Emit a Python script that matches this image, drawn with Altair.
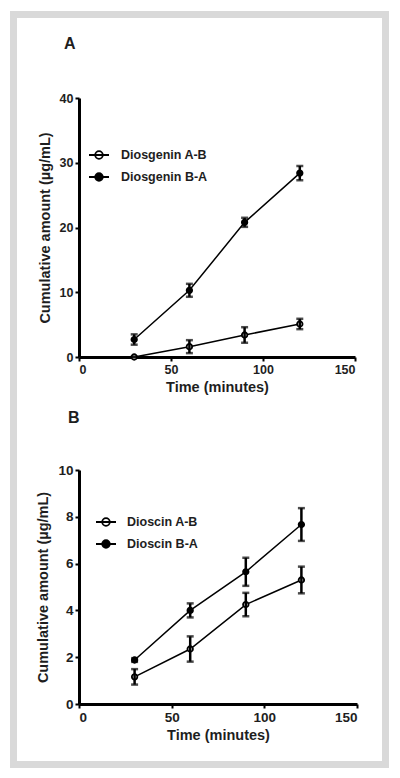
import altair as alt
import pandas as pd

time_min = [30, 60, 90, 120]
x_ticks = [0, 50, 100, 150]

# Panel A: Diosgenin
dg_names = ["Diosgenin A-B", "Diosgenin B-A"]
dg_ab = [0.0, 1.6, 3.4, 5.1]
dg_ab_err = [0.0, 1.0, 1.2, 0.8]
dg_ba = [2.7, 10.3, 20.8, 28.4]
dg_ba_err = [0.8, 1.0, 0.7, 1.1]
ya_ticks = [0, 10, 20, 30, 40]

# Panel B: Dioscin
dc_names = ["Dioscin A-B", "Dioscin B-A"]
dc_ab = [1.16, 2.35, 4.25, 5.3]
dc_ab_err = [0.33, 0.54, 0.5, 0.57]
dc_ba = [1.88, 4.0, 5.65, 7.67]
dc_ba_err = [0.08, 0.3, 0.6, 0.7]
yb_ticks = [0, 2, 4, 6, 8, 10]

FONT = "Liberation Sans"
INK = "#1e1e1e"
LEG_PATH = "M-1,0L1,0M0.38,0A0.38,0.38,0,1,1,-0.38,0A0.38,0.38,0,1,1,0.38,0"


def make_df(names, ab, ab_err, ba, ba_err):
    rows = []
    for name, vals, errs in ((names[0], ab, ab_err), (names[1], ba, ba_err)):
        for t, v, e in zip(time_min, vals, errs):
            rows.append({"time": t, "value": v, "lo": v - e, "hi": v + e, "series": name})
    return pd.DataFrame(rows)


one = pd.DataFrame({"k": [0]})


def panel(df, names, ymax, yticks, width, height, leg_x, leg_y, lab_off,
          tick_fs, letter, lx, ly, frame=False):
    xaxis = alt.Axis(values=x_ticks, title="Time (minutes)", labelFontSize=tick_fs)
    yaxis = alt.Axis(values=yticks, title="Cumulative amount (µg/mL)", labelFontSize=tick_fs)
    xs = alt.Scale(domain=[0, 150], nice=False)
    ys = alt.Scale(domain=[0, ymax], nice=False)
    x = alt.X("time:Q", scale=xs, axis=xaxis)
    base = alt.Chart(df)
    line = base.mark_line(color="black", strokeWidth=1.5).encode(
        x=x, y=alt.Y("value:Q", scale=ys, axis=yaxis), detail="series:N")
    pts = base.mark_point(shape="circle", filled=True, size=30, stroke="black",
                          strokeWidth=1.8, opacity=1).encode(
        x=x, y=alt.Y("value:Q", scale=ys, axis=yaxis),
        fill=alt.Fill("series:N", scale=alt.Scale(domain=names, range=["white", "black"]),
                      legend=alt.Legend(title=None, orient="none", legendX=leg_x, legendY=leg_y,
                                        symbolType=LEG_PATH, symbolSize=400,
                                        symbolStrokeColor="black", symbolStrokeWidth=1.8,
                                        labelFont=FONT, labelFontSize=12.5, labelFontWeight="bold",
                                        labelColor=INK, labelOffset=lab_off, rowPadding=3,
                                        padding=0)))
    rule = base.mark_rule(color="black", strokeWidth=2.5).encode(
        x=x, y=alt.Y("lo:Q", scale=ys, axis=yaxis), y2="hi:Q")
    cap_lo = base.mark_tick(orient="horizontal", color="black", size=7, thickness=2.5).encode(
        x=x, y=alt.Y("lo:Q", scale=ys, axis=yaxis))
    cap_hi = base.mark_tick(orient="horizontal", color="black", size=7, thickness=2.5).encode(
        x=x, y=alt.Y("hi:Q", scale=ys, axis=yaxis))
    lab = alt.Chart(one).mark_text(text=letter, font=FONT, fontSize=16, fontWeight="bold",
                                   color=INK, align="left", baseline="alphabetic").encode(
        x=alt.value(lx), y=alt.value(ly))
    layers = [line, pts, rule, cap_lo, cap_hi, lab]
    if frame:
        fr = alt.Chart(one).mark_rect(fillOpacity=0, stroke="#d9d9d9", strokeWidth=7).encode(
            x=alt.value(-65.5), x2=alt.value(306.5), y=alt.value(-83.5), y2=alt.value(666.5))
        layers = [fr] + layers
    return alt.layer(*layers).properties(width=width, height=height)


pa = panel(make_df(dg_names, dg_ab, dg_ab_err, dg_ba, dg_ba_err), dg_names, 40, ya_ticks,
           276, 259, 9, 46, 11, 12.5, "A", -15, -49, frame=True)
pb = panel(make_df(dc_names, dc_ab, dc_ab_err, dc_ba, dc_ba_err), dc_names, 10, yb_ticks,
           278, 234, 16, 41, 10, 13.5, "B", -11, -47)

chart = alt.vconcat(pa, pb, spacing=113, bounds="flush").resolve_scale(fill="independent").properties(
    padding={"left": 1, "top": 2, "right": 0, "bottom": 0}, background="white"
).configure_view(stroke="transparent").configure_axis(
    grid=False, domainColor="black", domainWidth=3, tickColor="black", tickWidth=2, tickSize=4,
    labelFont=FONT, labelFontWeight="bold", labelColor=INK, labelPadding=2,
    titleFont=FONT, titleFontSize=14.5, titleFontWeight="bold", titleColor=INK,
).configure_axisY(titlePadding=7).configure_axisX(titlePadding=5)

chart.save("out.html", embed_options={"renderer": "svg", "actions": False})
